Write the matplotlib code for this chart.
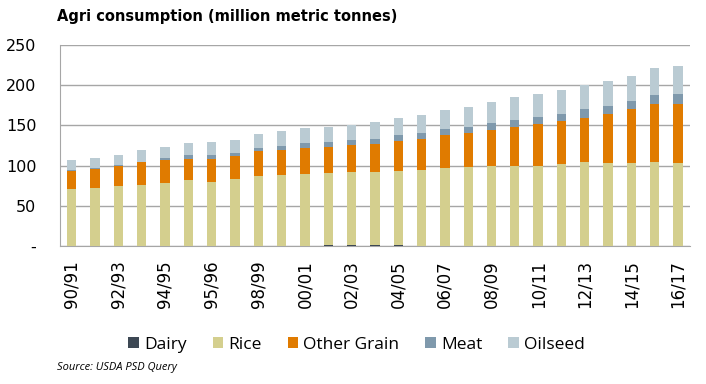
import matplotlib.pyplot as plt
import numpy as np

labels = ['90/91', '92/93', '94/95', '95/96', '98/99', '00/01', '02/03',
          '04/05', '06/07', '08/09', '10/11', '12/13', '14/15', '16/17']

# cumulative tops, converted to layers below
dairy = [0, 0, 0, 0, 0, 0, 0, 0, 0, 0, 0, 1.5, 1.5, 1.5, 1.5,
         0, 0, 0, 0, 0, 0, 0, 0, 0, 0, 0, 0]
rice_top = [70.5, 72, 74.6, 76.3, 78.8, 82, 79.6, 83.7, 87, 88, 89.5, 90.8, 92,
            91.6, 93.7, 95, 97.4, 98.3, 100, 100, 100, 102.4, 104, 103.6, 102.8,
            104.5, 103.6]
grain_top = [93.7, 96, 100, 104, 107, 108.6, 108.6, 112, 117.7, 119, 121.5, 123.5,
             125.2, 126.5, 131, 133.5, 137.6, 140, 143.9, 147.6, 151.3, 155, 159.6,
             163.8, 170, 176.6, 177]
meat_top = [95, 97.5, 101, 105, 110, 113, 113.6, 116, 122, 124.4, 128.5, 129.4,
            132.3, 133.5, 138, 141, 146, 148.4, 153.4, 157, 160.4, 164.6, 170,
            174.5, 180.8, 188, 189.5]
oil_top = [106.5, 110, 113.6, 119.4, 123.5, 128, 129.4, 131.4, 139.7, 143, 146.4,
           148.4, 150.5, 153.8, 159.6, 162.5, 169, 173, 179, 185, 189.5, 193.6,
           200, 205.6, 212, 221.8, 224.3]

dairy = np.array(dairy)
rice = np.array(rice_top) - dairy
grain = np.array(grain_top) - np.array(rice_top)
meat = np.array(meat_top) - np.array(grain_top)
oil = np.array(oil_top) - np.array(meat_top)

series = [('Dairy', dairy, '#3d4854'), ('Rice', rice, '#d4cf8e'),
          ('Other Grain', grain, '#e07b00'), ('Meat', meat, '#7f99ac'),
          ('Oilseed', oil, '#bacbd3')]

fig = plt.figure(figsize=(7.06, 3.84), dpi=100)
ax = fig.add_axes([0.085, 0.359, 0.892, 0.524])
x = np.arange(len(oil_top))
bottom = np.zeros(len(x))
for name, vals, col in series:
    ax.bar(x, vals, 0.4, bottom=bottom, color=col, label=name, zorder=3)
    bottom += vals

ax.set_xlim(-0.5, 26.5)
ax.set_ylim(0, 250)
ax.set_yticks([0, 50, 100, 150, 200, 250])
ax.set_yticklabels(['-', '50', '100', '150', '200', '250'], fontsize=11.5)
ax.set_xticks(x[::2])
ax.set_xticklabels(labels, rotation=90, fontsize=12)
ax.tick_params(length=0)
ax.tick_params(axis='x', pad=10)
ax.tick_params(axis='y', pad=17)
ax.grid(axis='y', color='#a6a6a6', linewidth=1, zorder=0)
for s in ['top', 'right']:
    ax.spines[s].set_visible(False)
ax.spines['left'].set_color('#a6a6a6')
ax.spines['bottom'].set_color('#a6a6a6')

fig.text(0.081, 0.957, 'Agri consumption (million metric tonnes)', fontsize=10.5,
         fontweight='bold', ha='left', va='center')
fig.legend(loc='center', bbox_to_anchor=(0.505, 0.102), ncol=5, frameon=False,
           prop={'family': 'Open Sans', 'size': 12.5}, handlelength=0.6,
           handleheight=0.6, handletextpad=0.3, columnspacing=1.5)
fig.text(0.081, 0.043, 'Source: USDA PSD Query', fontsize=8, style='italic',
         family='Open Sans', ha='left', va='center')
fig.savefig('out.png', dpi=100)
